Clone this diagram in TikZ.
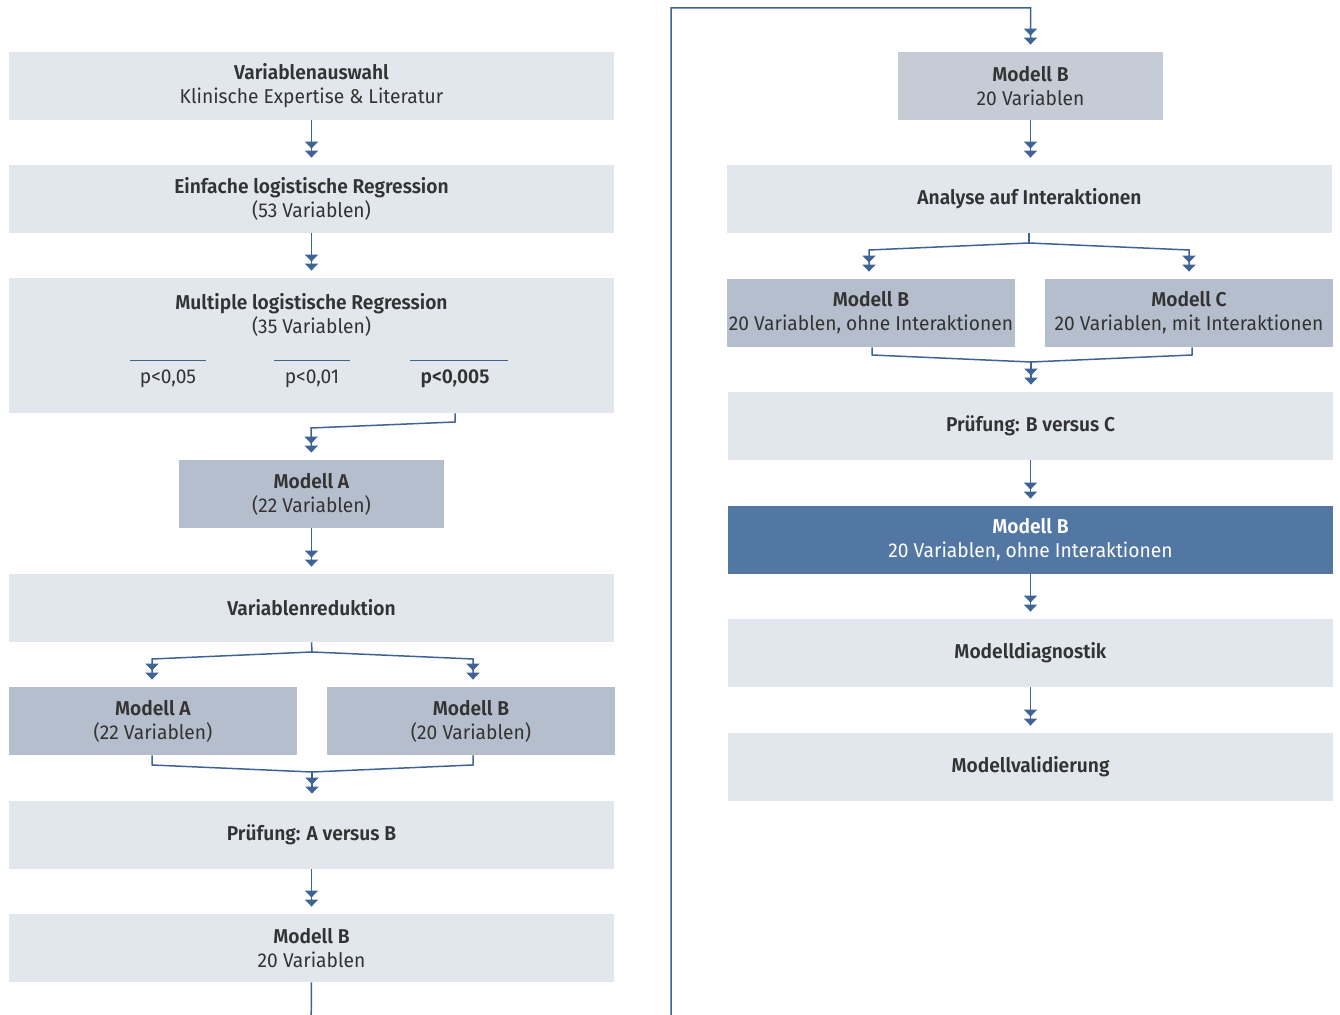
\documentclass[tikz,border=0pt]{standalone}
\usepackage{fontspec}
\setmainfont{Fira Sans}[FakeStretch=0.96, BoldFont={Fira Sans SemiBold}, BoldFeatures={FakeStretch=0.96}]
\usetikzlibrary{arrows.meta}

\definecolor{boxlight}{RGB}{226,230,237}
\definecolor{boxmid}{RGB}{181,190,204}
\definecolor{boxtop}{RGB}{197,204,214}
\definecolor{boxblue}{RGB}{82,119,163}
\definecolor{linkblue}{RGB}{62,100,150}
\definecolor{textgray}{RGB}{51,51,51}

\begin{document}
\begin{tikzpicture}[x=0.5pt, y=-0.5pt,
		box/.style={inner sep=0pt, minimum height=34pt, align=center, text=textgray, font=\fontsize{10}{12}\selectfont},
		full/.style={box, fill=boxlight, minimum width=302.5pt},
		half/.style={box, fill=boxmid, minimum width=144pt},
		small/.style={box, minimum width=132.5pt},
		link/.style={draw=linkblue, line width=0.75pt},
		conn/.style={link, shorten >=2.5pt,
			-{Triangle[width=6.5pt,length=3.5pt,sep=1pt]Triangle[width=6.5pt,length=3.5pt,sep=1pt]}},
		pline/.style={draw=linkblue, line width=0.5pt}]
		\useasboundingbox (0,0) rectangle (1340,1015);
		\clip (0,0) rectangle (1340,1015);
		
		% left column
		\node[full] (VarAuswahl) at (311.5, 86)  {\textbf{Variablenauswahl}\\Klinische Expertise \& Literatur};
		\node[full] (EinfReg)    at (311.5, 199) {\textbf{Einfache logistische Regression}\\(53 Variablen)};
		\node[full, minimum height=67.5pt] (MultReg) at (311.5, 345.5) {};
		\node[box]  (MultTitle)  at (311.5, 315) {\textbf{Multiple logistische Regression}\\(35 Variablen)};
		\node[box]  (P05)        at (168, 379)   {p<0,05};
		\node[box]  (P01)        at (312, 379)   {p<0,01};
		\node[box]  (P005)       at (455, 379)   {\textbf{p<0,005}};
		\node[small, fill=boxmid] (ModellA) at (311.5, 494) {\textbf{Modell A}\\(22 Variablen)};
		\node[full] (VarRed)     at (311.5, 608) {\textbf{Variablenreduktion}};
		\node[half] (ModA22)     at (153, 721)   {\textbf{Modell A}\\(22 Variablen)};
		\node[half] (ModB20)     at (471, 721)   {\textbf{Modell B}\\(20 Variablen)};
		\node[full] (PruefAB)    at (311.5, 835) {\textbf{Prüfung: A versus B}};
		\node[full] (ModBLeft)   at (311.5, 948) {\textbf{Modell B}\\20 Variablen};
		
		% right column
		\node[small, fill=boxtop] (ModBTop) at (1030.5, 86) {\textbf{Modell B}\\20 Variablen};
		\node[full] (Analyse)    at (1029.5, 199) {\textbf{Analyse auf Interaktionen}};
		\node[half] (ModB3)      at (871, 313)    {\textbf{Modell B}\\20 Variablen, ohne Interaktionen};
		\node[half] (ModC)       at (1189, 313)   {\textbf{Modell C}\\20 Variablen, mit Interaktionen};
		\node[full] (PruefBC)    at (1030.5, 426) {\textbf{Prüfung: B versus C}};
		\node[full, fill=boxblue, text=white] (ModBFinal) at (1030.5, 540) {\textbf{Modell B}\\20 Variablen, ohne Interaktionen};
		\node[full] (Diagnostik) at (1030.5, 653) {\textbf{Modelldiagnostik}};
		\node[full] (Validierung) at (1030.5, 767) {\textbf{Modellvalidierung}};
		
		\coordinate (PKnick)   at (455, 422);
		\coordinate (AKnick)   at (311, 428);
		\coordinate (RedSplit) at (312, 652);
		\coordinate (RedA)     at (152, 659);
		\coordinate (RedB)     at (473, 659);
		\coordinate (MergeA)   at (152, 765);
		\coordinate (MergeB)   at (473, 765);
		\coordinate (MergeAB)  at (312, 772);
		\coordinate (LoopLeft) at (311, 1040);
		\coordinate (LoopRight) at (671, 1040);
		\coordinate (LoopTop)  at (671, 8);
		\coordinate (AnaSplit) at (1029, 243);
		\coordinate (AnaB)     at (869, 250);
		\coordinate (AnaC)     at (1189, 250);
		\coordinate (MergeB3)  at (872, 355);
		\coordinate (MergeC)   at (1192, 355);
		\coordinate (MergeBC)  at (1031, 362);
		
		% p-value rules
		\draw[pline] (130, 361) -- (206, 361);
		\draw[pline] (274, 361) -- (350, 361);
		\draw[pline] (410, 361) -- (508, 361);
		
		% left connectors
		\draw[conn] (VarAuswahl.south) -- (EinfReg.north);
		\draw[conn] (EinfReg.south)    -- (MultReg.north);
		\draw[conn] (PKnick |- MultReg.south) -- (PKnick) -- (AKnick) -- (ModellA.north);
		\draw[conn] (ModellA.south)    -- (VarRed.north);
		\draw[link] (VarRed.south) -- (RedSplit);
		\draw[conn] (RedSplit) -- (RedA) -- (RedA |- ModA22.north);
		\draw[conn] (RedSplit) -- (RedB) -- (RedB |- ModB20.north);
		\draw[link] (MergeA |- ModA22.south) -- (MergeA) -- (MergeAB);
		\draw[link] (MergeB |- ModB20.south) -- (MergeB) -- (MergeAB);
		\draw[conn] (MergeAB) -- (MergeAB |- PruefAB.north);
		\draw[conn] (PruefAB.south)    -- (ModBLeft.north);
		\draw[conn] (ModBLeft.south) -- (LoopLeft) -- (LoopRight) -- (LoopTop) -| (ModBTop.north);
		
		% right connectors
		\draw[conn] (ModBTop.south)    -- (ModBTop.south |- Analyse.north);
		\draw[link] (AnaSplit |- Analyse.south) -- (AnaSplit);
		\draw[conn] (AnaSplit) -- (AnaB) -- (AnaB |- ModB3.north);
		\draw[conn] (AnaSplit) -- (AnaC) -- (AnaC |- ModC.north);
		\draw[link] (MergeB3 |- ModB3.south) -- (MergeB3) -- (MergeBC);
		\draw[link] (MergeC |- ModC.south) -- (MergeC) -- (MergeBC);
		\draw[conn] (MergeBC) -- (MergeBC |- PruefBC.north);
		\draw[conn] (PruefBC.south)    -- (ModBFinal.north);
		\draw[conn] (ModBFinal.south)  -- (Diagnostik.north);
		\draw[conn] (Diagnostik.south) -- (Validierung.north);
	\end{tikzpicture}
\end{document}
